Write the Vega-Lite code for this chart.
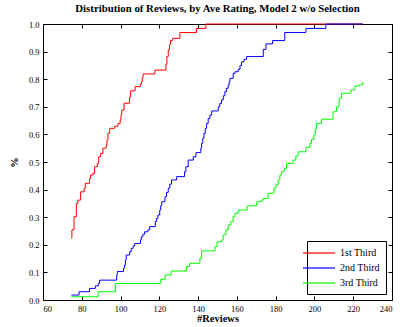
{
  "$schema": "https://vega.github.io/schema/vega-lite/v6.json",
  "width": 349,
  "height": 276,
  "autosize": {"type": "none"},
  "padding": {"left": 43, "top": 24, "right": 11, "bottom": 27},
  "background": "white",
  "title": {"text": "Distribution of Reviews, by Ave Rating, Model 2 w/o Selection", "font": "Liberation Serif", "fontSize": 10.8, "fontWeight": "bold", "color": "black", "offset": 6},
  "config": {
    "view": {"stroke": "black", "strokeWidth": 1},
    "axis": {"labelFont": "Liberation Serif", "labelFontSize": 8.5, "labelColor": "black", "titleFont": "Liberation Serif", "titleFontSize": 10.5, "titleFontWeight": "bold", "titleColor": "black", "tickColor": "black", "domain": false, "grid": false, "tickSize": -4, "labelPadding": 8},
    "legend": {"orient": "bottom-right", "offset": 6, "strokeColor": "black", "fillColor": "white", "padding": 6, "symbolType": "M-3.2,0H3.2", "symbolSize": 100, "symbolStrokeWidth": 1.2, "labelFont": "Liberation Serif", "labelFontSize": 10, "labelColor": "black", "rowPadding": 4, "labelOffset": 15}
  },
  "data": {"values": [
    {"s": "1st Third", "x": 74.6, "y": 0.224},
    {"s": "1st Third", "x": 74.9, "y": 0.254},
    {"s": "1st Third", "x": 76.0, "y": 0.302},
    {"s": "1st Third", "x": 77.2, "y": 0.350},
    {"s": "1st Third", "x": 78.0, "y": 0.362},
    {"s": "1st Third", "x": 79.4, "y": 0.392},
    {"s": "1st Third", "x": 81.2, "y": 0.405},
    {"s": "1st Third", "x": 81.8, "y": 0.423},
    {"s": "1st Third", "x": 84.0, "y": 0.440},
    {"s": "1st Third", "x": 84.6, "y": 0.453},
    {"s": "1st Third", "x": 85.8, "y": 0.459},
    {"s": "1st Third", "x": 86.6, "y": 0.483},
    {"s": "1st Third", "x": 88.0, "y": 0.495},
    {"s": "1st Third", "x": 88.7, "y": 0.519},
    {"s": "1st Third", "x": 89.7, "y": 0.531},
    {"s": "1st Third", "x": 90.9, "y": 0.550},
    {"s": "1st Third", "x": 92.6, "y": 0.562},
    {"s": "1st Third", "x": 93.0, "y": 0.580},
    {"s": "1st Third", "x": 93.5, "y": 0.604},
    {"s": "1st Third", "x": 94.4, "y": 0.622},
    {"s": "1st Third", "x": 97.0, "y": 0.630},
    {"s": "1st Third", "x": 98.7, "y": 0.640},
    {"s": "1st Third", "x": 99.8, "y": 0.652},
    {"s": "1st Third", "x": 100.2, "y": 0.670},
    {"s": "1st Third", "x": 100.6, "y": 0.688},
    {"s": "1st Third", "x": 101.8, "y": 0.713},
    {"s": "1st Third", "x": 104.6, "y": 0.735},
    {"s": "1st Third", "x": 105.2, "y": 0.758},
    {"s": "1st Third", "x": 107.5, "y": 0.773},
    {"s": "1st Third", "x": 110.2, "y": 0.782},
    {"s": "1st Third", "x": 110.8, "y": 0.791},
    {"s": "1st Third", "x": 111.2, "y": 0.805},
    {"s": "1st Third", "x": 111.6, "y": 0.819},
    {"s": "1st Third", "x": 117.7, "y": 0.833},
    {"s": "1st Third", "x": 123.4, "y": 0.855},
    {"s": "1st Third", "x": 123.9, "y": 0.882},
    {"s": "1st Third", "x": 124.6, "y": 0.906},
    {"s": "1st Third", "x": 125.2, "y": 0.925},
    {"s": "1st Third", "x": 125.8, "y": 0.940},
    {"s": "1st Third", "x": 126.9, "y": 0.948},
    {"s": "1st Third", "x": 130.6, "y": 0.969},
    {"s": "1st Third", "x": 139.2, "y": 0.984},
    {"s": "1st Third", "x": 144.0, "y": 1.0},
    {"s": "1st Third", "x": 225.0, "y": 1.0},
    {"s": "2nd Third", "x": 74.6, "y": 0.018},
    {"s": "2nd Third", "x": 78.6, "y": 0.030},
    {"s": "2nd Third", "x": 84.0, "y": 0.042},
    {"s": "2nd Third", "x": 87.0, "y": 0.051},
    {"s": "2nd Third", "x": 88.5, "y": 0.060},
    {"s": "2nd Third", "x": 89.2, "y": 0.072},
    {"s": "2nd Third", "x": 98.0, "y": 0.090},
    {"s": "2nd Third", "x": 98.3, "y": 0.103},
    {"s": "2nd Third", "x": 101.5, "y": 0.115},
    {"s": "2nd Third", "x": 102.1, "y": 0.127},
    {"s": "2nd Third", "x": 102.5, "y": 0.145},
    {"s": "2nd Third", "x": 102.9, "y": 0.163},
    {"s": "2nd Third", "x": 104.7, "y": 0.175},
    {"s": "2nd Third", "x": 105.5, "y": 0.187},
    {"s": "2nd Third", "x": 106.5, "y": 0.196},
    {"s": "2nd Third", "x": 107.3, "y": 0.205},
    {"s": "2nd Third", "x": 110.3, "y": 0.218},
    {"s": "2nd Third", "x": 110.7, "y": 0.229},
    {"s": "2nd Third", "x": 111.5, "y": 0.238},
    {"s": "2nd Third", "x": 112.4, "y": 0.247},
    {"s": "2nd Third", "x": 114.1, "y": 0.254},
    {"s": "2nd Third", "x": 115.0, "y": 0.266},
    {"s": "2nd Third", "x": 117.9, "y": 0.284},
    {"s": "2nd Third", "x": 118.6, "y": 0.296},
    {"s": "2nd Third", "x": 119.3, "y": 0.308},
    {"s": "2nd Third", "x": 120.2, "y": 0.326},
    {"s": "2nd Third", "x": 120.7, "y": 0.341},
    {"s": "2nd Third", "x": 121.2, "y": 0.356},
    {"s": "2nd Third", "x": 122.9, "y": 0.374},
    {"s": "2nd Third", "x": 123.7, "y": 0.390},
    {"s": "2nd Third", "x": 124.6, "y": 0.405},
    {"s": "2nd Third", "x": 125.4, "y": 0.420},
    {"s": "2nd Third", "x": 126.3, "y": 0.435},
    {"s": "2nd Third", "x": 128.9, "y": 0.447},
    {"s": "2nd Third", "x": 133.0, "y": 0.465},
    {"s": "2nd Third", "x": 133.7, "y": 0.483},
    {"s": "2nd Third", "x": 134.9, "y": 0.507},
    {"s": "2nd Third", "x": 137.5, "y": 0.519},
    {"s": "2nd Third", "x": 138.9, "y": 0.534},
    {"s": "2nd Third", "x": 141.4, "y": 0.550},
    {"s": "2nd Third", "x": 141.8, "y": 0.568},
    {"s": "2nd Third", "x": 142.4, "y": 0.586},
    {"s": "2nd Third", "x": 143.0, "y": 0.604},
    {"s": "2nd Third", "x": 143.7, "y": 0.622},
    {"s": "2nd Third", "x": 144.4, "y": 0.640},
    {"s": "2nd Third", "x": 145.2, "y": 0.658},
    {"s": "2nd Third", "x": 146.1, "y": 0.670},
    {"s": "2nd Third", "x": 147.0, "y": 0.685},
    {"s": "2nd Third", "x": 150.4, "y": 0.700},
    {"s": "2nd Third", "x": 151.2, "y": 0.712},
    {"s": "2nd Third", "x": 152.1, "y": 0.725},
    {"s": "2nd Third", "x": 153.0, "y": 0.740},
    {"s": "2nd Third", "x": 153.8, "y": 0.755},
    {"s": "2nd Third", "x": 154.6, "y": 0.767},
    {"s": "2nd Third", "x": 155.5, "y": 0.779},
    {"s": "2nd Third", "x": 156.0, "y": 0.791},
    {"s": "2nd Third", "x": 156.4, "y": 0.803},
    {"s": "2nd Third", "x": 158.1, "y": 0.821},
    {"s": "2nd Third", "x": 159.0, "y": 0.827},
    {"s": "2nd Third", "x": 160.7, "y": 0.836},
    {"s": "2nd Third", "x": 161.6, "y": 0.850},
    {"s": "2nd Third", "x": 162.4, "y": 0.863},
    {"s": "2nd Third", "x": 163.7, "y": 0.872},
    {"s": "2nd Third", "x": 165.0, "y": 0.882},
    {"s": "2nd Third", "x": 173.6, "y": 0.908},
    {"s": "2nd Third", "x": 175.0, "y": 0.928},
    {"s": "2nd Third", "x": 178.4, "y": 0.940},
    {"s": "2nd Third", "x": 184.7, "y": 0.969},
    {"s": "2nd Third", "x": 195.6, "y": 0.984},
    {"s": "2nd Third", "x": 205.9, "y": 1.0},
    {"s": "2nd Third", "x": 225.0, "y": 1.0},
    {"s": "3rd Third", "x": 74.6, "y": 0.012},
    {"s": "3rd Third", "x": 88.4, "y": 0.030},
    {"s": "3rd Third", "x": 97.3, "y": 0.060},
    {"s": "3rd Third", "x": 120.7, "y": 0.075},
    {"s": "3rd Third", "x": 123.0, "y": 0.091},
    {"s": "3rd Third", "x": 126.1, "y": 0.105},
    {"s": "3rd Third", "x": 133.9, "y": 0.121},
    {"s": "3rd Third", "x": 135.6, "y": 0.133},
    {"s": "3rd Third", "x": 140.9, "y": 0.151},
    {"s": "3rd Third", "x": 141.8, "y": 0.178},
    {"s": "3rd Third", "x": 148.7, "y": 0.193},
    {"s": "3rd Third", "x": 149.8, "y": 0.211},
    {"s": "3rd Third", "x": 152.1, "y": 0.217},
    {"s": "3rd Third", "x": 152.9, "y": 0.236},
    {"s": "3rd Third", "x": 154.3, "y": 0.254},
    {"s": "3rd Third", "x": 155.5, "y": 0.272},
    {"s": "3rd Third", "x": 156.8, "y": 0.284},
    {"s": "3rd Third", "x": 158.1, "y": 0.302},
    {"s": "3rd Third", "x": 159.0, "y": 0.314},
    {"s": "3rd Third", "x": 160.7, "y": 0.326},
    {"s": "3rd Third", "x": 165.3, "y": 0.341},
    {"s": "3rd Third", "x": 170.2, "y": 0.356},
    {"s": "3rd Third", "x": 172.7, "y": 0.362},
    {"s": "3rd Third", "x": 173.6, "y": 0.368},
    {"s": "3rd Third", "x": 176.1, "y": 0.387},
    {"s": "3rd Third", "x": 179.1, "y": 0.405},
    {"s": "3rd Third", "x": 180.1, "y": 0.417},
    {"s": "3rd Third", "x": 181.3, "y": 0.435},
    {"s": "3rd Third", "x": 182.2, "y": 0.453},
    {"s": "3rd Third", "x": 183.0, "y": 0.465},
    {"s": "3rd Third", "x": 184.4, "y": 0.477},
    {"s": "3rd Third", "x": 185.6, "y": 0.495},
    {"s": "3rd Third", "x": 189.0, "y": 0.507},
    {"s": "3rd Third", "x": 190.4, "y": 0.522},
    {"s": "3rd Third", "x": 191.6, "y": 0.537},
    {"s": "3rd Third", "x": 195.6, "y": 0.553},
    {"s": "3rd Third", "x": 197.6, "y": 0.568},
    {"s": "3rd Third", "x": 198.5, "y": 0.582},
    {"s": "3rd Third", "x": 199.7, "y": 0.598},
    {"s": "3rd Third", "x": 200.4, "y": 0.620},
    {"s": "3rd Third", "x": 201.1, "y": 0.640},
    {"s": "3rd Third", "x": 203.7, "y": 0.655},
    {"s": "3rd Third", "x": 209.6, "y": 0.682},
    {"s": "3rd Third", "x": 211.4, "y": 0.700},
    {"s": "3rd Third", "x": 212.7, "y": 0.731},
    {"s": "3rd Third", "x": 214.0, "y": 0.749},
    {"s": "3rd Third", "x": 218.8, "y": 0.761},
    {"s": "3rd Third", "x": 220.8, "y": 0.775},
    {"s": "3rd Third", "x": 223.0, "y": 0.779},
    {"s": "3rd Third", "x": 224.8, "y": 0.787},
    {"s": "3rd Third", "x": 225.5, "y": 0.787}
  ]},
  "layer": [
    {
      "mark": {"type": "line", "interpolate": "step-after", "strokeWidth": 1},
      "encoding": {
        "x": {"field": "x", "type": "quantitative", "scale": {"domain": [60, 240], "nice": false, "zero": false}, "axis": {"title": "#Reviews", "values": [60, 80, 100, 120, 140, 160, 180, 200, 220, 240], "titlePadding": 1}},
        "y": {"field": "y", "type": "quantitative", "scale": {"domain": [0, 1], "nice": false}, "axis": {"title": "%", "values": [0, 0.1, 0.2, 0.3, 0.4, 0.5, 0.6, 0.7, 0.8, 0.9, 1], "titlePadding": 9}},
        "color": {"field": "s", "type": "nominal", "scale": {"domain": ["1st Third", "2nd Third", "3rd Third"], "range": ["#ff0000", "#0000ff", "#00ff00"]}, "legend": {"title": null, "symbolStrokeColor": {"expr": "scale('color', datum.value)"}}}
      }
    },
    {
      "mark": {"type": "line", "strokeOpacity": 0},
      "encoding": {
        "x": {"field": "x", "type": "quantitative", "axis": {"orient": "top", "labels": false, "title": null, "values": [60, 80, 100, 120, 140, 160, 180, 200, 220, 240]}},
        "y": {"field": "y", "type": "quantitative", "axis": {"orient": "right", "labels": false, "title": null, "values": [0, 0.1, 0.2, 0.3, 0.4, 0.5, 0.6, 0.7, 0.8, 0.9, 1]}}
      }
    }
  ],
  "resolve": {"axis": {"x": "independent", "y": "independent"}}
}
